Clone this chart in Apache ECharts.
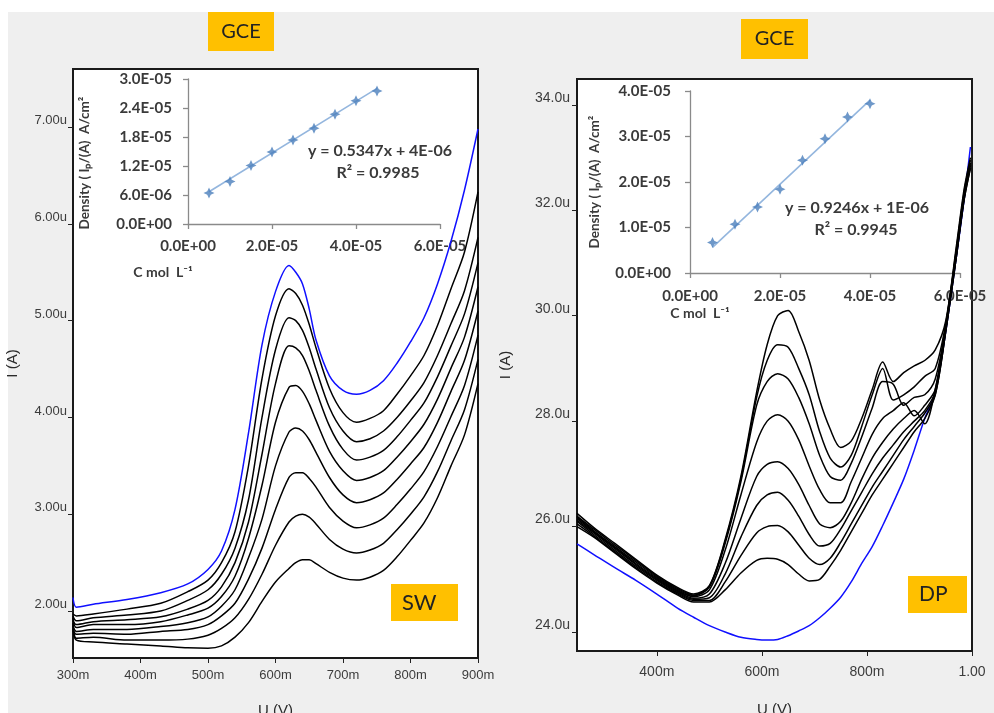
<!DOCTYPE html>
<html>
<head>
<meta charset="utf-8">
<script src="https://cdn.jsdelivr.net/npm/echarts@6/dist/echarts.min.js"></script>
<style>
  html, body { margin: 0; padding: 0; background: #fff; width: 994px; height: 713px; overflow: hidden; }
  #panel { position: absolute; left: 8px; top: 12px; right: 0; bottom: 0; background: #efefef; }
  #chart { position: absolute; left: 0; top: 0; width: 994px; height: 713px; }
</style>
</head>
<body>
<div id="panel"></div>
<div id="chart"></div>
<script>
// ---------- Square-wave voltammograms (GCE, SW) ----------
const swVoltage = [0.300, 0.305, 0.33, 0.38, 0.43, 0.47, 0.50, 0.52, 0.54, 0.56, 0.58, 0.60, 0.62, 0.63, 0.64, 0.65, 0.66, 0.68, 0.70, 0.72, 0.74, 0.76, 0.78, 0.80, 0.82, 0.84, 0.86, 0.88, 0.90];
const swBlank = [2.14, 2.04, 2.07, 2.12, 2.19, 2.28, 2.43, 2.62, 3.05, 3.84, 4.75, 5.30, 5.57, 5.50, 5.38, 5.12, 4.80, 4.43, 4.28, 4.24, 4.28, 4.38, 4.56, 4.78, 5.03, 5.38, 5.82, 6.35, 6.98];
const swCurve1 = [1.80, 1.70, 1.68, 1.66, 1.64, 1.62, 1.615, 1.64, 1.73, 1.88, 2.10, 2.30, 2.44, 2.50, 2.53, 2.53, 2.49, 2.40, 2.34, 2.32, 2.35, 2.42, 2.56, 2.73, 2.91, 3.17, 3.50, 3.82, 4.35];
const swCurve2 = [1.88, 1.72, 1.73, 1.70, 1.70, 1.71, 1.75, 1.82, 1.93, 2.12, 2.38, 2.68, 2.92, 2.98, 3.00, 2.97, 2.90, 2.74, 2.64, 2.60, 2.63, 2.70, 2.84, 3.00, 3.18, 3.44, 3.76, 4.08, 4.60];
const swCurve3 = [1.82, 1.76, 1.77, 1.76, 1.79, 1.81, 1.86, 1.95, 2.08, 2.33, 2.65, 3.05, 3.38, 3.43, 3.43, 3.37, 3.28, 3.07, 2.93, 2.86, 2.89, 2.96, 3.10, 3.26, 3.44, 3.70, 4.01, 4.33, 4.85];
const swCurve4 = [1.85, 1.79, 1.81, 1.81, 1.84, 1.88, 1.94, 2.05, 2.22, 2.55, 2.95, 3.50, 3.85, 3.89, 3.86, 3.77, 3.64, 3.38, 3.20, 3.12, 3.15, 3.22, 3.36, 3.52, 3.69, 3.95, 4.27, 4.59, 5.10];
const swCurve5 = [1.93, 1.83, 1.86, 1.86, 1.89, 1.96, 2.03, 2.15, 2.36, 2.75, 3.30, 3.95, 4.31, 4.33, 4.27, 4.14, 3.97, 3.65, 3.45, 3.35, 3.38, 3.45, 3.59, 3.75, 3.93, 4.19, 4.51, 4.83, 5.35];
const swCurve6 = [1.90, 1.86, 1.89, 1.91, 1.94, 2.02, 2.11, 2.25, 2.50, 2.92, 3.62, 4.35, 4.74, 4.72, 4.64, 4.48, 4.28, 3.91, 3.67, 3.56, 3.59, 3.66, 3.80, 3.97, 4.15, 4.42, 4.74, 5.07, 5.60];
const swCurve7 = [1.95, 1.90, 1.93, 1.96, 2.00, 2.11, 2.22, 2.38, 2.65, 3.15, 4.00, 4.70, 5.03, 5.00, 4.90, 4.72, 4.50, 4.10, 3.86, 3.75, 3.78, 3.86, 4.00, 4.17, 4.36, 4.64, 4.97, 5.31, 5.86];
const swCurve8 = [1.97, 1.95, 1.97, 2.02, 2.08, 2.20, 2.32, 2.50, 2.82, 3.50, 4.40, 5.05, 5.33, 5.28, 5.16, 4.96, 4.72, 4.30, 4.05, 3.95, 3.99, 4.07, 4.24, 4.43, 4.64, 4.95, 5.33, 5.71, 6.33];
const swVoltTicks = [0.3, 0.4, 0.5, 0.6, 0.7, 0.8, 0.9];
const swCurrentTicks = [2, 3, 4, 5, 6, 7];

// ---------- Differential-pulse voltammograms (GCE, DP) ----------
const dpVoltage = [0.248, 0.28, 0.32, 0.36, 0.40, 0.44, 0.47, 0.50, 0.53, 0.56, 0.59, 0.61, 0.63, 0.65, 0.67, 0.69, 0.71, 0.73, 0.75, 0.77, 0.79, 0.81, 0.83, 0.85, 0.87, 0.89, 0.91, 0.93, 0.95, 0.97, 0.985, 0.997];
const dpBlank = [25.67, 25.47, 25.22, 24.98, 24.72, 24.45, 24.28, 24.12, 24.00, 23.90, 23.86, 23.85, 23.86, 23.93, 24.02, 24.12, 24.27, 24.45, 24.66, 24.95, 25.30, 25.62, 26.02, 26.45, 26.90, 27.45, 28.05, 28.55, 29.70, 31.10, 32.20, 33.20];
const dpCurve1 = [26.00, 25.80, 25.50, 25.20, 24.93, 24.70, 24.57, 24.57, 24.80, 25.12, 25.36, 25.40, 25.38, 25.28, 25.10, 24.97, 25.00, 25.25, 25.55, 25.90, 26.25, 26.60, 26.90, 27.20, 27.50, 27.80, 28.05, 28.50, 29.70, 31.10, 32.20, 32.80];
const dpCurve2 = [26.05, 25.82, 25.52, 25.22, 24.95, 24.72, 24.60, 24.60, 24.95, 25.45, 25.88, 26.00, 26.02, 25.90, 25.65, 25.40, 25.28, 25.40, 25.70, 26.05, 26.40, 26.75, 27.05, 27.35, 27.65, 27.90, 28.15, 28.50, 29.70, 31.10, 32.20, 32.80];
const dpCurve3 = [26.10, 25.85, 25.55, 25.25, 24.98, 24.74, 24.62, 24.65, 25.10, 25.80, 26.40, 26.60, 26.65, 26.50, 26.20, 25.85, 25.63, 25.68, 25.95, 26.30, 26.65, 27.00, 27.30, 27.55, 27.80, 28.00, 28.20, 28.55, 29.75, 31.15, 32.25, 32.85];
const dpCurve4 = [26.12, 25.88, 25.58, 25.28, 25.00, 24.76, 24.64, 24.72, 25.30, 26.15, 26.95, 27.18, 27.23, 27.10, 26.80, 26.40, 26.05, 25.98, 26.10, 26.45, 26.90, 27.30, 27.60, 27.85, 28.05, 28.20, 27.95, 28.60, 29.75, 31.15, 32.25, 32.85];
const dpCurve5 = [26.15, 25.90, 25.60, 25.30, 25.02, 24.78, 24.67, 24.80, 25.55, 26.60, 27.60, 28.00, 28.12, 28.00, 27.65, 27.15, 26.70, 26.45, 26.45, 26.85, 27.30, 27.75, 28.05, 28.20, 28.35, 28.10, 28.30, 28.60, 29.80, 31.20, 32.30, 32.90];
const dpCurve6 = [26.18, 25.92, 25.62, 25.33, 25.04, 24.80, 24.69, 24.85, 25.68, 26.85, 28.30, 28.75, 28.90, 28.80, 28.45, 27.95, 27.35, 26.95, 26.88, 27.20, 27.70, 28.25, 28.75, 28.70, 28.30, 28.45, 28.50, 28.80, 29.80, 31.20, 32.30, 32.90];
const dpCurve7 = [26.20, 25.95, 25.65, 25.36, 25.06, 24.82, 24.70, 24.87, 25.72, 26.90, 28.45, 29.15, 29.45, 29.40, 29.00, 28.50, 27.80, 27.30, 27.13, 27.35, 27.90, 28.50, 29.00, 28.40, 28.50, 28.65, 28.85, 29.00, 29.85, 31.25, 32.35, 32.95];
const dpCurve8 = [26.25, 25.98, 25.68, 25.38, 25.08, 24.84, 24.72, 24.88, 25.75, 26.95, 28.55, 29.45, 30.00, 30.10, 29.70, 29.15, 28.40, 27.85, 27.50, 27.62, 28.05, 28.60, 29.12, 28.75, 28.92, 29.05, 29.15, 29.35, 29.90, 31.30, 32.40, 33.00];
const dpVoltTicks = [0.4, 0.6, 0.8, 1.0];
const dpCurrentTicks = [24, 26, 28, 30, 32, 34];

// ---------- Calibration insets ----------
const swConc = [0.5e-5, 1.0e-5, 1.5e-5, 2.0e-5, 2.5e-5, 3.0e-5, 3.5e-5, 4.0e-5, 4.5e-5];
const swDensity = [6.4e-6, 8.8e-6, 1.21e-5, 1.49e-5, 1.74e-5, 1.98e-5, 2.27e-5, 2.55e-5, 2.75e-5];
const swSlope = 0.5347, swIntercept = 4e-6, swR2 = '0.9985';
const dpConc = [0.5e-5, 1.0e-5, 1.5e-5, 2.0e-5, 2.5e-5, 3.0e-5, 3.5e-5, 4.0e-5];
const dpDensity = [6.7e-6, 1.07e-5, 1.45e-5, 1.84e-5, 2.48e-5, 2.95e-5, 3.43e-5, 3.72e-5];
const dpSlope = 0.9246, dpIntercept = 1e-6, dpR2 = '0.9945';
const insetConcTicks = [0, 2e-5, 4e-5, 6e-5];
const swDensityTicks = [0, 6e-6, 1.2e-5, 1.8e-5, 2.4e-5, 3.0e-5];
const dpDensityTicks = [0, 1e-5, 2e-5, 3e-5, 4e-5];

// Excel-style scientific label, e.g. 2.4E-05
function sci(v) {
  if (Math.abs(v) < 1e-15) return '0.0E+00';
  let e = Math.floor(Math.log10(Math.abs(v)) + 1e-9);
  let m = v / Math.pow(10, e);
  if (Math.round(m * 10) / 10 >= 10) { m /= 10; e += 1; }
  return m.toFixed(1) + 'E' + (e < 0 ? '-' : '+') + String(Math.abs(e)).padStart(2, '0');
}
const pairs = (xs, ys) => xs.map((x, i) => [x, ys[i]]);
const trend = (xs, k, b) => [[xs[0], k * xs[0] + b], [xs[xs.length - 1], k * xs[xs.length - 1] + b]];

const labelFont = 'Liberation Sans';
const boldFont = 'Lato';
const insetInk = '#3a3a3a';
const insetAxis = '#8a8a8a';
const starPath = 'path://M0,-6 L1.9,-1.9 L6,0 L1.9,1.9 L0,6 L-1.9,1.9 L-6,0 L-1.9,-1.9 Z';

function mainLine(name, xs, ys, axis, color) {
  return {
    name, type: 'line', xAxisIndex: axis, yAxisIndex: axis,
    data: pairs(xs, ys), symbol: 'none', smooth: 0.3,
    lineStyle: { color, width: 1.5 }, z: 3
  };
}

const swBlack = [swCurve1, swCurve2, swCurve3, swCurve4, swCurve5, swCurve6, swCurve7, swCurve8];
const dpBlack = [dpCurve1, dpCurve2, dpCurve3, dpCurve4, dpCurve5, dpCurve6, dpCurve7, dpCurve8];

const series = [];
swBlack.forEach((c, i) => series.push(mainLine('SW ' + (i + 1), swVoltage, c, 0, '#000')));
series.push(mainLine('SW blank', swVoltage, swBlank, 0, '#1010ff'));
series.push(mainLine('DP blank', dpVoltage, dpBlank, 1, '#1010ff'));
dpBlack.forEach((c, i) => series.push(mainLine('DP ' + (i + 1), dpVoltage, c, 1, '#000')));

series.push({ type: 'line', xAxisIndex: 2, yAxisIndex: 2, data: trend(swConc, swSlope, swIntercept),
  symbol: 'none', lineStyle: { color: '#94b6de', width: 1.6 }, z: 5 });
series.push({ type: 'scatter', xAxisIndex: 2, yAxisIndex: 2, data: pairs(swConc, swDensity),
  symbol: starPath, symbolSize: 11, itemStyle: { color: '#4a7ebb' }, z: 6 });
series.push({ type: 'line', xAxisIndex: 3, yAxisIndex: 3, data: trend(dpConc, dpSlope, dpIntercept),
  symbol: 'none', lineStyle: { color: '#94b6de', width: 1.6 }, z: 5 });
series.push({ type: 'scatter', xAxisIndex: 3, yAxisIndex: 3, data: pairs(dpConc, dpDensity),
  symbol: starPath, symbolSize: 11, itemStyle: { color: '#4a7ebb' }, z: 6 });

const mainGrid = { show: true, backgroundColor: '#fff', borderColor: '#1a1a1a', borderWidth: 2, outerBoundsMode: 'none', containLabel: false };

function mainX(min, max, ticks, fmt, size, margin, gap) {
  return {
    type: 'value', min, max, splitLine: { show: false },
    axisLine: { show: false },
    axisTick: { show: true, length: 5, customValues: ticks, lineStyle: { color: '#222' } },
    axisLabel: { customValues: ticks, formatter: fmt, color: '#3c3c3c', fontFamily: labelFont, fontSize: size, margin },
    name: 'U (V)', nameLocation: 'middle', nameGap: gap,
    nameTextStyle: { color: '#2a2a2a', fontFamily: labelFont, fontSize: 15 }
  };
}
function mainY(min, max, ticks, fmt, size, margin, gap) {
  return {
    type: 'value', min, max, splitLine: { show: false },
    axisLine: { show: false },
    axisTick: { show: true, length: 5, customValues: ticks, lineStyle: { color: '#222' } },
    axisLabel: { customValues: ticks, formatter: fmt, color: '#3c3c3c', fontFamily: labelFont, fontSize: size, margin, verticalAlign: 'bottom' },
    name: 'I (A)', nameLocation: 'middle', nameGap: gap, nameRotate: 90,
    nameTextStyle: { color: '#2a2a2a', fontFamily: labelFont, fontSize: 15 }
  };
}
function insetX(ticks, margin) {
  return {
    type: 'value', min: 0, max: 6e-5, splitLine: { show: false },
    axisLine: { show: true, onZero: false, lineStyle: { color: insetAxis, width: 1.3 } },
    axisTick: { show: true, length: 5, customValues: ticks, lineStyle: { color: insetAxis, width: 1.3 } },
    axisLabel: { customValues: ticks, formatter: sci, color: insetInk, fontFamily: boldFont, fontWeight: 'bold', fontSize: 15, margin }
  };
}
function insetY(max, ticks, margin) {
  return {
    type: 'value', min: 0, max, splitLine: { show: false },
    axisLine: { show: true, onZero: false, lineStyle: { color: insetAxis, width: 1.3 } },
    axisTick: { show: true, length: 5, customValues: ticks, lineStyle: { color: insetAxis, width: 1.3 } },
    axisLabel: { customValues: ticks, formatter: sci, color: insetInk, fontFamily: boldFont, fontWeight: 'bold', fontSize: 15, margin }
  };
}

const mFmt = v => Math.round(v * 1000) + 'm';
const dpXFmt = v => (Math.abs(v - 1) < 1e-9 ? '1.00' : Math.round(v * 1000) + 'm');

function tag(x, y, w, h, text, size, tx) {
  return [
    { type: 'rect', shape: { x, y, width: w, height: h }, style: { fill: '#ffc000' }, z: 20 },
    { type: 'text', x: tx !== undefined ? tx : x + w / 2, y: y + h / 2, z: 21,
      style: { text, fill: '#222', font: size + 'px Lato', align: tx !== undefined ? 'left' : 'center', verticalAlign: 'middle' } }
  ];
}
function insetText(x, y, text, size, rot) {
  return { type: 'text', x, y, rotation: rot || 0, z: 22,
    style: { text, fill: insetInk, font: 'bold ' + size + 'px Lato', align: 'center', verticalAlign: 'middle' } };
}

const graphics = [].concat(
  tag(208, 12, 66, 39, 'GCE', 20),
  tag(741, 19, 67, 40, 'GCE', 20),
  tag(391, 584, 67, 37, 'SW', 22, 402),
  tag(908, 576, 59, 37, 'DP', 21, 919),
  [
    insetText(85, 163, 'Density ( Iₚ/(A)  A/cm²', 13.5, Math.PI / 2),
    insetText(595, 182, 'Density ( Iₚ/(A)  A/cm²', 13.5, Math.PI / 2),
    insetText(163, 272, 'C mol  L⁻¹', 14),
    insetText(700, 313, 'C mol  L⁻¹', 14),
    insetText(380, 151, 'y = ' + swSlope + 'x + ' + sci(swIntercept).replace('.0E', 'E'), 16),
    insetText(378, 173, 'R² = ' + swR2, 16),
    insetText(857, 208, 'y = ' + dpSlope + 'x + ' + sci(dpIntercept).replace('.0E', 'E'), 16),
    insetText(856, 230, 'R² = ' + dpR2, 16)
  ]
);

const insetGrid = { show: false, outerBoundsMode: 'none', containLabel: false };

const chart = echarts.init(document.getElementById('chart'), null, { renderer: 'canvas' });
chart.setOption({
  animation: false,
  backgroundColor: 'transparent',
  grid: [
    Object.assign({ left: 73, top: 69, width: 405, height: 589 }, mainGrid),
    Object.assign({ left: 577, top: 79, width: 395, height: 572 }, mainGrid),
    Object.assign({ left: 188, top: 79, width: 252, height: 145 }, insetGrid),
    Object.assign({ left: 690, top: 91, width: 270, height: 182 }, insetGrid)
  ],
  xAxis: [
    Object.assign(mainX(0.3, 0.9, swVoltTicks, mFmt, 13, 11, 45), { gridIndex: 0 }),
    Object.assign(mainX(0.248, 1.0, dpVoltTicks, dpXFmt, 14, 14, 51), { gridIndex: 1 }),
    Object.assign(insetX(insetConcTicks, 15), { gridIndex: 2 }),
    Object.assign(insetX(insetConcTicks, 16), { gridIndex: 3 })
  ],
  yAxis: [
    Object.assign(mainY(1.515, 7.6, swCurrentTicks, v => v.toFixed(2) + 'u', 13, 6, 53), { gridIndex: 0 }),
    Object.assign(mainY(23.64, 34.49, dpCurrentTicks, v => v.toFixed(1) + 'u', 14, 7, 64), { gridIndex: 1 }),
    Object.assign(insetY(3e-5, swDensityTicks, 16), { gridIndex: 2 }),
    Object.assign(insetY(4e-5, dpDensityTicks, 19), { gridIndex: 3 })
  ],
  series,
  graphic: graphics
});
</script>
</body>
</html>
